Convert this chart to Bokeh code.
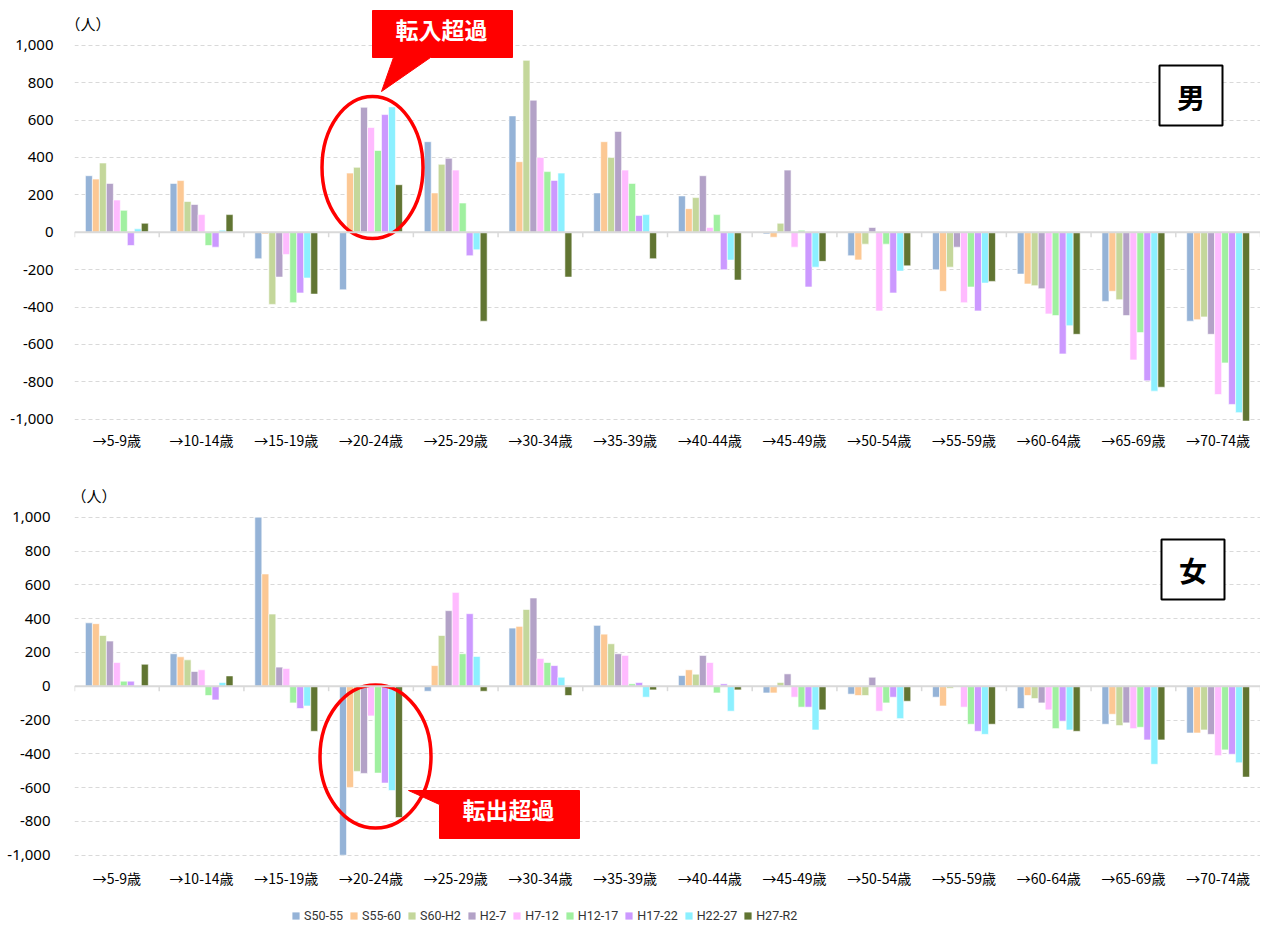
from bokeh.plotting import figure
from bokeh.models import (FixedTicker, Span, Label, Legend, LegendItem, ColumnDataSource,
                          NumeralTickFormatter)
from bokeh.layouts import column
from bokeh.embed import file_html
from bokeh.resources import INLINE
from bokeh.core.properties import value

# ---------------- data ----------------
categories = ["→5-9歳", "→10-14歳", "→15-19歳", "→20-24歳", "→25-29歳", "→30-34歳",
              "→35-39歳", "→40-44歳", "→45-49歳", "→50-54歳", "→55-59歳", "→60-64歳",
              "→65-69歳", "→70-74歳"]
series = ["S50-55", "S55-60", "S60-H2", "H2-7", "H7-12", "H12-17", "H17-22", "H22-27", "H27-R2"]
colors = ["#95B3D7", "#FCC894", "#C4D79B", "#B3A2C7", "#FFBBFF", "#A0F0A0", "#CC99FF", "#8CF0FF", "#617532"]

male_s50_55 = [302, 261, -142, -308, 484, 622, 210, 194, -9, -126, -201, -224, -370, -476]
male_s55_60 = [284, 276, -9, 316, 210, 377, 484, 126, -27, -148, -316, -277, -316, -468]
male_s60_h2 = [370, 164, -386, 347, 363, 919, 400, 185, 48, -64, -187, -286, -361, -453]
male_h2_7 = [261, 148, -240, 668, 395, 706, 539, 302, 332, 25, -80, -302, -446, -546]
male_h7_12 = [172, 94, -119, 560, 332, 400, 332, 25, -80, -421, -377, -437, -683, -868]
male_h12_17 = [117, -71, -377, 437, 156, 324, 261, 94, 11, -64, -293, -446, -537, -699]
male_h17_22 = [-71, -80, -325, 629, -126, 277, 89, -201, -293, -325, -421, -651, -795, -921]
male_h22_27 = [18, 11, -245, 670, -94, 316, 94, -149, -187, -208, -272, -500, -850, -965]
male_h27_r2 = [48, 94, -331, 254, -476, -240, -142, -256, -156, -180, -263, -546, -829, -1010]

female_s50_55 = [375, 192, 1000, -1000, -30, 344, 360, 63, -40, -47, -65, -132, -225, -277]
female_s55_60 = [370, 174, 664, -599, 122, 354, 308, 97, -40, -55, -117, -55, -166, -277]
female_s60_h2 = [300, 156, 427, -504, 300, 454, 251, 71, 22, -55, -12, -73, -233, -259]
female_h2_7 = [267, 87, 113, -516, 447, 522, 192, 182, 73, 53, -3, -99, -217, -285]
female_h7_12 = [140, 97, 105, -176, 555, 164, 182, 140, -65, -148, -124, -140, -251, -411]
female_h12_17 = [30, -55, -99, -514, 192, 140, 14, -40, -124, -99, -225, -251, -243, -377]
female_h17_22 = [30, -81, -132, -573, 429, 122, 22, 14, -124, -65, -267, -207, -318, -403]
female_h22_27 = [-6, 22, -117, -617, 176, 53, -65, -148, -259, -192, -285, -259, -462, -453]
female_h27_r2 = [130, 61, -267, -777, -30, -55, -22, -22, -140, -89, -225, -267, -318, -538]

male_values = [male_s50_55, male_s55_60, male_s60_h2, male_h2_7, male_h7_12,
               male_h12_17, male_h17_22, male_h22_27, male_h27_r2]
female_values = [female_s50_55, female_s55_60, female_s60_h2, female_h2_7, female_h7_12,
                 female_h12_17, female_h17_22, female_h22_27, female_h27_r2]

y_ticks = [-1000, -800, -600, -400, -200, 0, 200, 400, 600, 800, 1000]
unit_label = "（人）"

# ---------------- layout helpers ----------------
W = 1260
FRAME_LEFT = 74         # page x of frame left edge
CAT_PX = (W - FRAME_LEFT) / len(categories)
BW = 0.0825             # bar width (category units)
JP = "Noto Sans CJK JP"


def make_panel(values, zero_py, px_per_unit, top_py, bottom_py, fig_top_py, fig_bottom_py,
               x_standoff, y_standoff):
    def Y(py):
        return (zero_py - py) / px_per_unit

    def X(px):
        return (px - FRAME_LEFT) / CAT_PX

    p = figure(width=W, height=fig_bottom_py - fig_top_py,
               x_range=(0, len(categories)), y_range=(Y(bottom_py), Y(top_py)),
               output_backend="svg", toolbar_location=None,
               min_border_left=FRAME_LEFT, min_border_right=0,
               min_border_top=top_py - fig_top_py, min_border_bottom=fig_bottom_py - bottom_py)
    p.outline_line_color = None
    p.background_fill_color = "white"
    p.border_fill_color = "white"

    p.yaxis.ticker = FixedTicker(ticks=y_ticks)
    p.yaxis.formatter = NumeralTickFormatter(format="0,0")
    p.yaxis.axis_line_color = None
    p.yaxis.major_tick_line_color = None
    p.yaxis.minor_tick_line_color = None
    p.yaxis.major_label_standoff = y_standoff
    p.yaxis.major_label_text_font = "Noto Sans"
    p.yaxis.major_label_text_font_size = "15px"
    p.yaxis.major_label_text_color = "#000000"

    centers = [i + 0.5 for i in range(len(categories))]
    p.xaxis.ticker = FixedTicker(ticks=centers)
    p.xaxis.major_label_overrides = {c: lab for c, lab in zip(centers, categories)}
    p.xaxis.axis_line_color = None
    p.xaxis.major_tick_line_color = None
    p.xaxis.minor_tick_line_color = None
    p.xaxis.major_label_standoff = x_standoff
    p.xaxis.major_label_text_font = JP
    p.xaxis.major_label_text_font_size = "14px"
    p.xaxis.major_label_text_color = "#000000"

    p.xgrid.grid_line_color = None
    p.ygrid.ticker = FixedTicker(ticks=y_ticks)
    p.ygrid.grid_line_color = "#D9D9D9"
    p.ygrid.grid_line_dash = "4 3"
    p.ygrid.grid_line_width = 1.2

    renderers = []
    for j, (name, col, vals) in enumerate(zip(series, colors, values)):
        src = ColumnDataSource(dict(x=[c + (j - 4) * BW for c in centers], top=vals))
        r = p.vbar(x="x", top="top", bottom=0, width=BW, source=src,
                   fill_color=col, line_color="white", line_width=0.6)
        renderers.append(r)

    p.add_layout(Span(location=0, dimension="width", line_color="#D9D9D9", line_width=2))
    bounds = list(range(len(categories) + 1))
    p.segment(x0=bounds, y0=[0] * len(bounds), x1=bounds, y1=[-5 / px_per_unit] * len(bounds),
              line_color="#D9D9D9", line_width=1.5)
    return p, X, Y, renderers


# ---------------- top panel (男) ----------------
p1, X1, Y1, r1 = make_panel(male_values, 231.7, 0.187, 8, 421, 0, 455, 2, 15)
p1.add_layout(Label(x=X1(65), y=Y1(23), text=unit_label, text_font=JP, text_font_size="15px",
                    text_baseline="middle", text_align="left", text_color="#000000"))
p1.ellipse(x=[X1(372)], y=[Y1(167)], width=101 / CAT_PX, height=142 / 0.187,
           fill_color=None, line_color="#FF0000", line_width=3.5)
cx = [372, 512, 512, 430, 381, 393, 372]
cy = [10, 10, 57, 57, 91, 57, 57]
p1.patch(x=[X1(v) for v in cx], y=[Y1(v) for v in cy], fill_color="#FF0000", line_color="#FF0000")
p1.text(x=[X1(441)], y=[Y1(28)], text=["転入超過"], text_color="white", text_font=value(JP),
        text_font_style="bold", text_font_size="23px", text_align="center", text_baseline="middle")
p1.quad(left=[X1(1159)], right=[X1(1222)], top=[Y1(65)], bottom=[Y1(125)],
        fill_color="white", line_color="black", line_width=2)
p1.text(x=[X1(1190.5)], y=[Y1(96)], text=["男"], text_color="black", text_font=value(JP),
        text_font_style="bold", text_font_size="28px", text_align="center", text_baseline="middle")

# ---------------- bottom panel (女) ----------------
p2, X2, Y2, r2 = make_panel(female_values, 685.7, 0.169, 478, 856, 455, 895, 5, 18)
p2.add_layout(Label(x=X2(71), y=Y2(495), text=unit_label, text_font=JP, text_font_size="15px",
                    text_baseline="middle", text_align="left", text_color="#000000"))
p2.ellipse(x=[X2(375)], y=[Y2(756)], width=111 / CAT_PX, height=143 / 0.169,
           fill_color=None, line_color="#FF0000", line_width=3.5)
cx = [408, 579, 579, 439, 439]
cy = [790, 790, 838, 838, 804]
p2.patch(x=[X2(v) for v in cx], y=[Y2(v) for v in cy], fill_color="#FF0000", line_color="#FF0000")
p2.text(x=[X2(508)], y=[Y2(808)], text=["転出超過"], text_color="white", text_font=value(JP),
        text_font_style="bold", text_font_size="23px", text_align="center", text_baseline="middle")
p2.quad(left=[X2(1161)], right=[X2(1224)], top=[Y2(539)], bottom=[Y2(599)],
        fill_color="white", line_color="black", line_width=2)
p2.text(x=[X2(1192.5)], y=[Y2(569)], text=["女"], text_color="black", text_font=value(JP),
        text_font_style="bold", text_font_size="28px", text_align="center", text_baseline="middle")

# ---------------- legend strip ----------------
p3 = figure(width=W, height=28, x_range=(0, 1), y_range=(0, 1), x_axis_type=None, y_axis_type=None,
            output_backend="svg", toolbar_location=None,
            min_border_left=0, min_border_right=0, min_border_top=0, min_border_bottom=0)
p3.frame_align = False
p3.outline_line_color = None
p3.background_fill_color = "white"
p3.border_fill_color = "white"
# zero-height bars: they draw nothing, they only carry the legend swatch style
legend_renderers = [p3.vbar(x=[0.5], top=[0], bottom=0, width=0.01, fill_color=c, line_color=None)
                    for c in colors]
legend = Legend(items=[LegendItem(label=s, renderers=[r]) for s, r in zip(series, legend_renderers)],
                orientation="horizontal", location=(291, 0),
                label_text_font="Roboto", label_text_font_size="12.5px",
                label_text_color="#333333",
                glyph_width=9, glyph_height=9, label_standoff=4, spacing=6,
                padding=2, margin=0, label_height=14,
                border_line_color=None, background_fill_alpha=0)
p3.add_layout(legend)

layout = column(p1, p2, p3, spacing=0)
open("out.html", "w").write(file_html(layout, INLINE))
